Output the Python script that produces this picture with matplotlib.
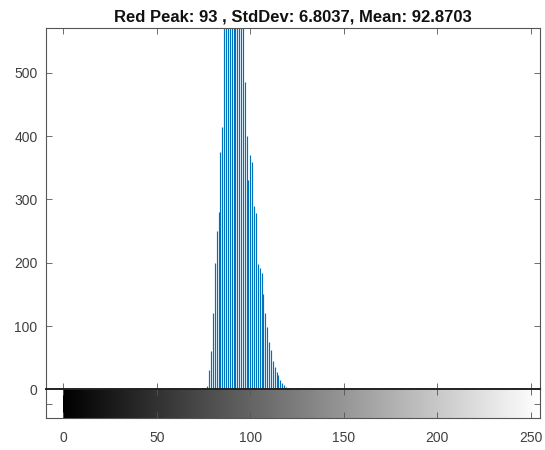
import numpy as np
import matplotlib
matplotlib.use("Agg")
import matplotlib.pyplot as plt

plt.rcParams['font.family'] = ['Liberation Sans', 'DejaVu Sans']

# histogram of the red channel (intensity bin -> pixel count)
bins = list(range(76, 121))
counts = [2, 5, 30, 60, 120, 200, 250, 280, 375, 415,
          610, 660, 720, 700, 760, 745, 790, 840, 770, 690,
          620, 485, 400, 330, 370, 360, 290, 278, 198, 192,
          184, 150, 120, 98, 75, 62, 45, 35, 28, 22,
          15, 10, 7, 4, 2]
peak = 93
std_dev = 6.8037
mean_val = 92.8703

x_ticks = [0, 50, 100, 150, 200, 250]
y_ticks = [0, 100, 200, 300, 400, 500]

xlo, xhi = -9.5, 255
frame = '#555555'
txt = '#404040'

fig = plt.figure(figsize=(5.45, 4.5), dpi=100)
ax = fig.add_axes([0.0839, 0.1349, 0.9069, 0.8029])
cb = fig.add_axes([0.0839, 0.0704, 0.9069, 0.0645])

ax.vlines(bins, 0, counts, color='#0072BD', linewidth=0.85)
ax.set_xlim(xlo, xhi)
ax.set_ylim(0, 571)
ax.set_xticks(x_ticks)
ax.set_xticklabels([])
ax.set_yticks(y_ticks)
ax.tick_params(direction='in', length=4, width=0.6, color=frame,
               top=True, right=True, labelsize=10, labelcolor=txt, pad=6)
for s in ax.spines.values():
    s.set_color(frame)
    s.set_linewidth(0.8)
ax.set_title('Red Peak: %d , StdDev: %.4f, Mean: %.4f' % (peak, std_dev, mean_val),
             fontsize=12, fontweight='bold', color='#111111', pad=5)

# grayscale intensity strip under the histogram
ramp = np.linspace(0, 1, 256).reshape(1, -1)
cb.imshow(ramp, cmap='gray', aspect='auto', extent=[0, 255, 0, 1], vmin=0, vmax=1)
cb.set_xlim(xlo, xhi)
cb.set_ylim(0, 1)
cb.set_xticks(x_ticks)
cb.set_yticks([0.5])
cb.set_yticklabels([])
cb.tick_params(direction='in', length=4, width=0.6, color=frame,
               top=True, right=True, labelsize=10, labelcolor=txt, pad=9)
for s in cb.spines.values():
    s.set_color(frame)
    s.set_linewidth(0.8)
cb.spines['top'].set_color('#222222')
cb.spines['top'].set_linewidth(1.4)

fig.savefig('out.png', dpi=100)
